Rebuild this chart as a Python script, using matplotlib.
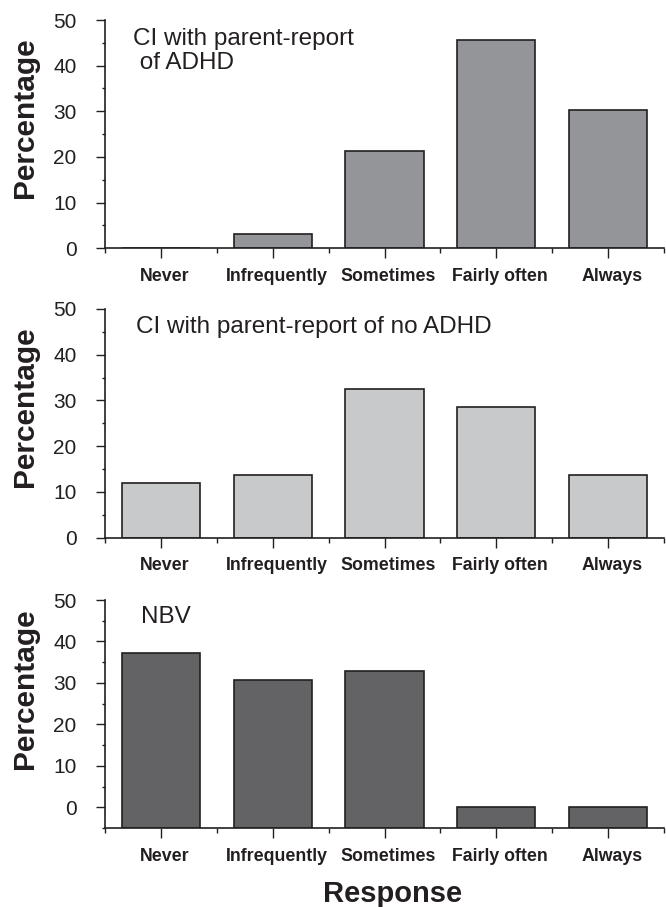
import matplotlib
matplotlib.use("Agg")
import matplotlib.pyplot as plt
import matplotlib.transforms as mtransforms
import numpy as np

plt.rcParams['font.family'] = ['Liberation Sans', 'DejaVu Sans']

categories = ["Never", "Infrequently", "Sometimes", "Fairly often", "Always"]
adhd_values = [0.0, 3.1, 21.3, 45.6, 30.3]
no_adhd_values = [12.0, 13.6, 32.4, 28.5, 13.6]
nbv_values = [37.1, 30.6, 32.8, 0.0, 0.0]

panel_titles = ["CI with parent-report\n of ADHD",
                "CI with parent-report of no ADHD",
                "NBV"]
bar_colors = ["#939598", "#c8c9cb", "#636365"]
ytick_values = [0, 10, 20, 30, 40, 50]
ylabel_text = "Percentage"
xlabel_text = "Response"

INK = "#231f20"
W, H = 666, 907
fig = plt.figure(figsize=(W / 100, H / 100), dpi=100)

# axes boxes in pixels: (top, bottom)
boxes = [(20, 248.3), (309, 537.5), (600, 828)]
ax_left, ax_right = 105, 664
ylims = [(0, 50), (0, 50), (-5, 50)]
# left x, baseline of last line (pixels)
text_pos = [(133, 69.0), (136, 333.3), (141, 622.7)]

series = [adhd_values, no_adhd_values, nbv_values]
x = np.arange(len(categories))

for i, (vals, col, title) in enumerate(zip(series, bar_colors, panel_titles)):
    top, bot = boxes[i]
    ax = fig.add_axes([ax_left / W, 1 - bot / H, (ax_right - ax_left) / W, (bot - top) / H])
    ymin, ymax = ylims[i]
    heights = [v - ymin for v in vals]
    ax.bar(x, heights, bottom=ymin, width=0.7, color=col, edgecolor=INK, linewidth=1.2, zorder=2)
    ax.set_xlim(-0.5, 4.5)
    ax.set_ylim(ymin, ymax)
    for s in ["top", "right"]:
        ax.spines[s].set_visible(False)
    for s in ["left", "bottom"]:
        ax.spines[s].set_color(INK)
        ax.spines[s].set_linewidth(1.2)
        ax.spines[s].set_zorder(3)
    ax.set_xticks(x)
    ax.set_xticklabels(categories, fontsize=12.8, fontweight="bold", color=INK)
    ax.set_xticks(np.arange(-0.5, 4.6, 1.0), minor=True)
    ax.set_yticks(ytick_values)
    ax.set_yticklabels([str(v) for v in ytick_values], fontsize=15, color=INK)
    ax.set_yticks(np.arange(ymin, ymax + 0.1, 5), minor=True)
    ax.tick_params(axis="x", which="major", direction="out", length=7.2, width=1.0, color=INK, pad=7.0)
    ax.tick_params(axis="x", which="minor", direction="out", length=3.6, width=1.0, color=INK)
    ax.tick_params(axis="y", which="major", direction="out", length=6.5, width=1.0, color=INK, pad=14.0)
    ax.tick_params(axis="y", which="minor", direction="out", length=2.4, width=1.0, color=INK)
    offset = mtransforms.ScaledTranslation(4 / 100, 0, fig.dpi_scale_trans)
    for lab in ax.get_xticklabels():
        lab.set_transform(lab.get_transform() + offset)

    tx, ty = text_pos[i]
    fig.text(tx / W, 1 - ty / H, title, fontsize=17.5, color=INK, ha="left", va="baseline",
             linespacing=1.13)

    # y label placed at value ~28.7
    disp = ax.transData.transform((0, 28.7))
    yc = fig.transFigure.inverted().transform(disp)[1]
    fig.text(33.3 / W, yc, ylabel_text, fontsize=21.5, fontweight="bold", color=INK,
             rotation=90, rotation_mode="anchor", ha="center", va="baseline")

fig.text(393 / W, 1 - 901.7 / H, xlabel_text, fontsize=21, fontweight="bold", color=INK,
         ha="center", va="baseline")

fig.savefig("out.png", dpi=100)
